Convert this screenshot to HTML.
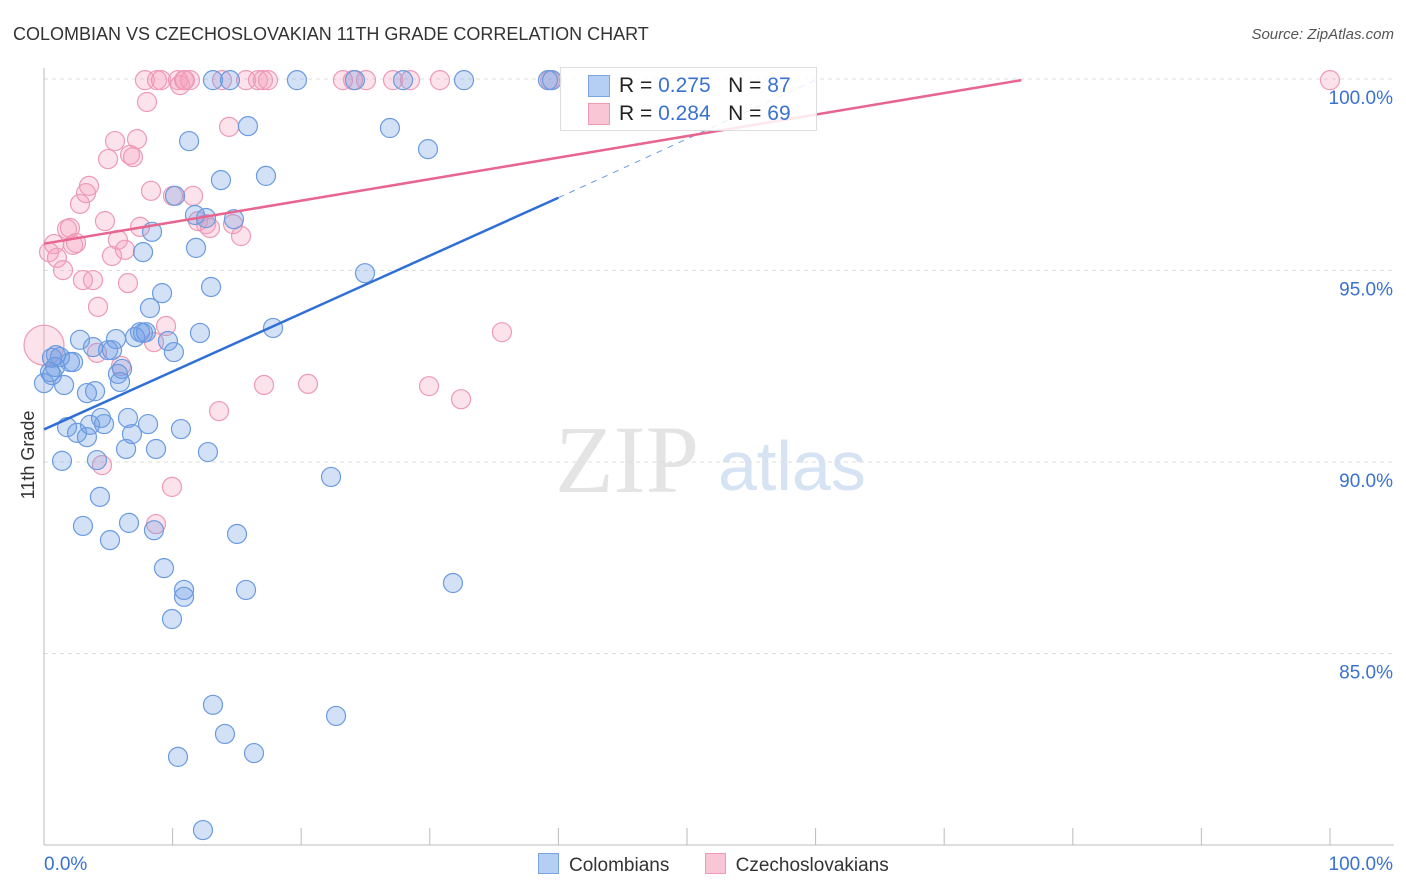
<!DOCTYPE html>
<html><head><meta charset="utf-8">
<style>
body{margin:0;background:#fff;font-family:"Liberation Sans",sans-serif;}
#wrap{position:relative;width:1406px;height:892px;overflow:hidden;}
</style></head>
<body><div id="wrap">
<svg id="chart" width="1406" height="892">
<text x="13" y="40" font-size="18" fill="#333">COLOMBIAN VS CZECHOSLOVAKIAN 11TH GRADE CORRELATION CHART</text>
<text x="1394" y="39" font-size="15" fill="#555" font-style="italic" text-anchor="end">Source: ZipAtlas.com</text>
<text x="34" y="455" font-size="18" fill="#333" transform="rotate(-90 34 455)" text-anchor="middle">11th Grade</text>
<text x="555" y="492" font-size="96" fill="#e4e4e4" font-family="Liberation Serif,serif">ZIP</text>
<text x="718" y="490" font-size="70" fill="#d6e3f3">atlas</text>
<g id="grid"></g><g id="pts"></g><g id="lines"></g>
</svg>
<div style="position:absolute;left:560px;top:67px;width:255px;height:62px;border:1px solid #ddd;background:rgba(255,255,255,0.85);font-size:21px;color:#222">
 <div style="position:absolute;left:27px;top:7px;width:20px;height:20px;background:#b5cef3;border:1px solid #7aa3e0"></div>
 <div style="position:absolute;left:58px;top:6px">R = <span style="color:#3a72d0">0.275</span>&nbsp;&nbsp;&nbsp;N = <span style="color:#3a72d0">87</span></div>
 <div style="position:absolute;left:27px;top:35px;width:20px;height:20px;background:#f8c6d5;border:1px solid #ee9ab5"></div>
 <div style="position:absolute;left:58px;top:34px">R = <span style="color:#3a72d0">0.284</span>&nbsp;&nbsp;&nbsp;N = <span style="color:#3a72d0">69</span></div>
</div>
<div style="position:absolute;left:538px;top:853px;font-size:19px;color:#333">
 <span><span style="display:inline-block;width:19px;height:19px;background:#b5cef3;border:1px solid #7aa3e0;vertical-align:-3px;margin-right:10px"></span>Colombians</span>
 <span style="margin-left:30px"><span style="display:inline-block;width:19px;height:19px;background:#f8c6d5;border:1px solid #ee9ab5;vertical-align:-3px;margin-right:10px"></span>Czechoslovakians</span>
</div>
</div>
<script>
const blueX=[0,0.47,0.62,0.86,1.24,1.56,1.4,1.79,2.02,2.26,2.57,2.8,3.03,3.34,3.34,3.58,3.81,3.97,4.12,4.35,4.43,4.67,4.98,5.13,5.29,5.6,5.75,5.91,6.07,6.38,6.53,6.61,6.84,7.08,7.47,7.7,7.93,8.09,8.24,8.4,8.55,8.71,9.18,9.33,9.64,9.95,10.1,10.19,10.65,10.89,10.89,11.28,11.74,11.82,12.13,12.6,12.75,12.99,13.14,13.14,13.76,14.07,14.46,14.77,15.01,15.71,15.86,16.33,17.26,17.81,19.67,10.42,12.36,22.32,22.71,24.18,24.96,26.9,27.92,29.86,31.8,32.66,39.19,39.5,7.7,0.93,0.62];
const blueY=[92.06,92.35,92.72,92.48,92.74,92.01,90.03,90.91,92.61,92.61,90.76,93.19,88.33,90.65,91.8,90.97,93.0,91.85,90.05,89.09,91.15,90.99,92.92,87.96,92.92,93.21,92.3,92.09,92.43,90.34,91.15,88.41,90.73,93.26,93.39,93.37,93.39,90.99,94.02,96.01,88.22,90.34,94.41,87.23,93.16,85.9,92.87,96.95,90.86,86.66,86.48,98.38,96.45,95.59,93.37,96.37,90.26,94.57,99.97,83.66,97.36,82.9,99.97,96.34,88.12,86.66,98.77,82.4,97.47,93.5,99.97,82.3,80.39,89.61,83.37,99.97,94.93,98.72,99.97,98.17,86.84,99.97,99.97,99.97,95.48,92.79,92.27];
const pinkX=[0,0.39,0.78,1.01,1.48,1.79,2.02,2.26,2.49,2.8,3.03,3.27,3.5,3.81,4.12,4.2,4.51,4.74,4.98,5.29,5.52,5.75,5.99,6.3,6.53,6.69,6.92,7.23,7.47,7.85,8.01,8.32,8.55,8.71,8.79,9.1,9.49,9.95,10.03,10.42,10.58,10.89,10.96,11.35,11.59,11.98,12.6,12.91,13.61,13.84,14.39,14.7,15.32,15.71,16.64,17.03,17.11,17.42,20.53,23.25,24.03,25.04,27.14,28.46,29.94,30.79,32.43,35.61,39.35,100];
const pinkY=[93.05,95.48,95.69,95.33,95.01,96.08,96.11,95.67,95.72,96.74,94.75,97.02,97.21,94.75,92.85,94.05,89.92,96.29,97.91,95.38,98.38,95.8,92.51,95.54,94.67,98.02,97.96,98.43,96.14,99.97,99.4,97.08,93.13,88.38,99.97,99.97,93.55,89.35,96.95,99.97,99.84,99.97,99.97,99.97,96.95,96.29,96.21,96.11,91.33,99.97,98.75,96.21,95.9,99.97,99.97,99.97,92.01,99.97,92.04,99.97,99.97,99.97,99.97,99.97,91.98,99.97,91.64,93.39,99.97,99.97];
const yTicks=[100,95,90,85];
const blueTrend=[[0,90.85],[40,96.9],[60,99.97]];
const pinkTrend=[[0,95.7],[76,99.97]];
const X=v=>44+v*12.86, Y=v=>79+(100-v)*38.3;
const NS="http://www.w3.org/2000/svg";
const svg=document.getElementById('chart');
function mk(t,a,p){const e=document.createElementNS(NS,t);for(const k in a)e.setAttribute(k,a[k]);(p||svg).appendChild(e);return e;}
const grid=document.getElementById('grid');
yTicks.forEach(t=>{
 const l=mk('line',{x1:44,x2:1394,y1:Y(t),y2:Y(t),stroke:'#ddd','stroke-dasharray':'4,4'},grid);
 
 
 const tx=mk('text',{x:1393,y:Y(t)+25,'font-size':19,fill:'#3a72d0','text-anchor':'end'},grid);
 tx.textContent=t.toFixed(1)+'%';
 
 
});
const ax=mk('line',{x1:44,x2:1394,y1:845,y2:845,stroke:'#bbb'},grid);


const ay=mk('line',{x1:44,x2:44,y1:68,y2:845,stroke:'#bbb'},grid);


for(let i=0;i<=10;i++){const t=mk('line',{x1:X(i*10),x2:X(i*10),y1:828,y2:845,stroke:'#bbb'},grid);
 
 }
[['0.0%',44,'start'],['100.0%',1393,'end']].forEach(d=>{const t=mk('text',{x:d[1],y:870,'font-size':19,fill:'#3a72d0','text-anchor':d[2]},grid);t.textContent=d[0];
 
 });
const pts=document.getElementById('pts');
pinkX.forEach((x,i)=>{const c=mk('circle',{cx:X(x),cy:Y(pinkY[i]),r:i==0?20:9.5,fill:'rgba(244,160,188,0.3)',stroke:'#ee9ab5','stroke-width':1.2},pts);
 
 });
blueX.forEach((x,i)=>{const c=mk('circle',{cx:X(x),cy:Y(blueY[i]),r:9.5,fill:'rgba(110,155,230,0.3)',stroke:'#6a9be0','stroke-width':1.2},pts);
 
 });
const lg=document.getElementById('lines');
const b1=mk('line',{x1:X(blueTrend[0][0]),y1:Y(blueTrend[0][1]),x2:X(blueTrend[1][0]),y2:Y(blueTrend[1][1]),stroke:'#2f6fd6','stroke-width':2.5},lg);


const b2=mk('line',{x1:X(blueTrend[1][0]),y1:Y(blueTrend[1][1]),x2:X(blueTrend[2][0]),y2:Y(blueTrend[2][1]),stroke:'#6a9be0','stroke-width':1,'stroke-dasharray':'6,6'},lg);


const p1=mk('line',{x1:X(pinkTrend[0][0]),y1:Y(pinkTrend[0][1]),x2:X(pinkTrend[1][0]),y2:Y(pinkTrend[1][1]),stroke:'#e8658f','stroke-width':2.5},lg);


</script>
</body></html>
